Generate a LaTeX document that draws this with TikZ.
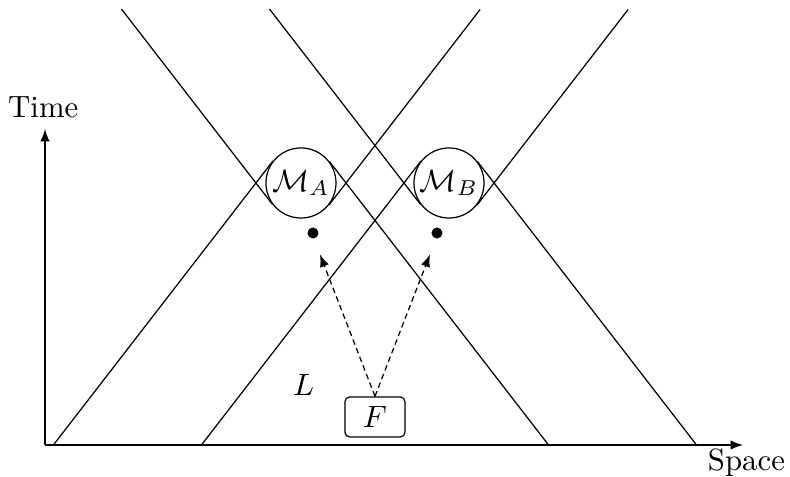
\documentclass[tikz,border=0pt]{standalone}
\usepackage{amsmath,amssymb}
\usetikzlibrary{arrows,positioning,calc}

\begin{document}
\begin{tikzpicture}[meas/.style={circle,draw,minimum size=0.8cm,inner sep=0pt},
                    srcbox/.style={draw,rounded corners=1.5pt,minimum width=0.685cm,minimum height=0.457cm,inner sep=0pt},
                    flow/.style={dash pattern=on 1.8pt off 1.2pt,-latex}]
                \useasboundingbox (-0.514,-0.365) rectangle (8.505,5.080);
                % axes
                \coordinate (o) at (0,0);
                \coordinate (tend) at (0,3.607);
                \coordinate (send) at (7.968,0);
                \draw [-latex] (o) -- (tend);
                \draw [-latex] (o) -- (send);
                \node [anchor=base] (time) at (-0.02,3.733) {Time};
                \node [anchor=base] (space) at (8.008,-0.297) {Space};
                % measurement regions
                \node [meas] (ma) at (2.922,2.991) {$\mathcal{M}_A$};
                \node [meas] (mb) at (4.612,2.991) {$\mathcal{M}_B$};
                % light cones of A
                \draw (ma.217.7) -- ++(127.7:2.82);
                \draw (ma.322.3) -- ++(52.3:2.82);
                \draw (ma.142.3) -- ++(232.3:4.09);
                \draw (ma.37.7) -- ++(-52.3:4.09);
                % light cones of B
                \draw (mb.217.7) -- ++(127.7:2.82);
                \draw (mb.322.3) -- ++(52.3:2.82);
                \draw (mb.142.3) -- ++(232.3:4.09);
                \draw (mb.37.7) -- ++(-52.3:4.09);
                % settings
                \fill (3.059,2.420) circle (0.063);
                \fill (4.475,2.420) circle (0.063);
                % source
                \node (lam) at (2.951,0.685) {$L$};
                \node [srcbox] (src) at (3.767,0.320) {$F$};
                \coordinate (tipa) at (3.139,2.175);
                \coordinate (tipb) at (4.395,2.175);
                \draw [flow] (src.north) -- (tipa);
                \draw [flow] (src.north) -- (tipb);
            \end{tikzpicture}
\end{document}
